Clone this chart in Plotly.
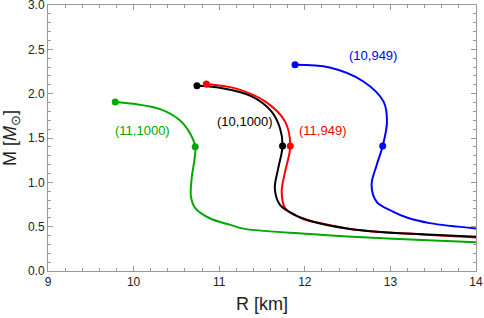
import plotly.graph_objects as go

# (11,1000) green
r_11_1000 = [9.785, 10.0, 10.31, 10.54, 10.66, 10.72, 10.71, 10.68, 10.67, 10.72, 10.89, 11.13, 11.3, 12.0, 12.5, 13.3, 14.0]
m_11_1000 = [1.907, 1.885, 1.825, 1.70, 1.55, 1.40, 1.25, 1.06, 0.84, 0.71, 0.595, 0.52, 0.475, 0.42, 0.39, 0.352, 0.324]
# (10,1000) black
r_10_1000 = [10.74, 10.99, 11.38, 11.61, 11.71, 11.74, 11.69, 11.65, 11.71, 11.89, 12.10, 12.49, 12.88, 13.5, 14.0]
m_10_1000 = [2.09, 2.07, 1.97, 1.80, 1.61, 1.41, 1.16, 0.93, 0.745, 0.63, 0.556, 0.48, 0.44, 0.41, 0.387]
# (11,949) red
r_11_949 = [10.85, 11.19, 11.54, 11.77, 11.83, 11.77, 11.73, 11.77, 11.96, 12.2, 12.6, 13.2, 14.0]
m_11_949 = [2.11, 2.06, 1.91, 1.685, 1.41, 1.12, 0.895, 0.71, 0.595, 0.535, 0.465, 0.422, 0.377]
# (10,949) blue
r_10_949 = [11.886, 12.29, 12.68, 12.92, 12.96, 12.91, 12.84, 12.78, 12.84, 13.03, 13.2, 13.46, 14.0]
m_10_949 = [2.325, 2.295, 2.14, 1.91, 1.685, 1.41, 1.196, 0.97, 0.78, 0.67, 0.60, 0.54, 0.48]

# marked points (maximum mass, 1.4 Msun)
dots = {
    "(11,1000)": ([9.785, 10.72], [1.907, 1.40]),
    "(10,1000)": ([10.74, 11.74], [2.09, 1.41]),
    "(11,949)": ([10.85, 11.83], [2.11, 1.41]),
    "(10,949)": ([11.886, 12.91], [2.325, 1.41]),
}
labels = ["(11,1000)", "(10,1000)", "(11,949)", "(10,949)"]
label_r = [10.10, 11.30, 12.21, 12.8]
label_m = [1.585, 1.69, 1.59, 2.43]
colors = {"(11,1000)": "#00a800", "(10,1000)": "#000000", "(11,949)": "#ff0000", "(10,949)": "#0000ff"}

series = [
    ("(11,1000)", r_11_1000, m_11_1000),
    ("(11,949)", r_11_949, m_11_949),
    ("(10,1000)", r_10_1000, m_10_1000),
    ("(10,949)", r_10_949, m_10_949),
]

fig = go.Figure()
for name, r, m in series:
    fig.add_trace(go.Scatter(x=r, y=m, mode="lines", line=dict(color=colors[name], width=2, shape="spline", smoothing=1.0),
                             showlegend=False, hoverinfo="skip"))
for name, r, m in series:
    dx, dy = dots[name]
    fig.add_trace(go.Scatter(x=dx, y=dy, mode="markers", marker=dict(color=colors[name], size=7),
                             showlegend=False, hoverinfo="skip"))

for lab, x, y in zip(labels, label_r, label_m):
    fig.add_annotation(x=x, y=y, text=lab, showarrow=False, font=dict(size=13, color=colors[lab], family="Liberation Sans, Arial"))

axcol = "#999999"
common = dict(showline=True, linecolor=axcol, linewidth=1, mirror="ticks", ticks="inside", ticklen=5, tickcolor=axcol,
              showgrid=False, zeroline=False, automargin=False, ticklabeloverflow="allow",
              tickfont=dict(size=12, color="#222222", family="Liberation Sans, Arial"))
fig.update_xaxes(range=[9, 14], dtick=1, tick0=9,
                 minor=dict(ticks="inside", ticklen=3, dtick=0.2, tickcolor=axcol, showgrid=False),
                 title=dict(text="R [km]", font=dict(size=18, color="#222222", family="Liberation Sans, Arial"), standoff=8),
                 **common)
fig.update_yaxes(range=[0, 3], dtick=0.5, tick0=0, tickformat=".1f",
                 minor=dict(ticks="inside", ticklen=3, dtick=0.1, tickcolor=axcol, showgrid=False),
                 title=dict(text="M [<i>M</i><sub>⊙</sub>]", font=dict(size=18, color="#222222", family="Liberation Sans, Arial"), standoff=6),
                 **common)
fig.update_layout(width=484, height=318, margin=dict(l=48, r=8, t=5, b=47), plot_bgcolor="white", paper_bgcolor="white")
fig.write_html("out.html", config={"displayModeBar": False},
               post_script="document.body.style.margin='0';document.body.style.overflow='hidden';")
